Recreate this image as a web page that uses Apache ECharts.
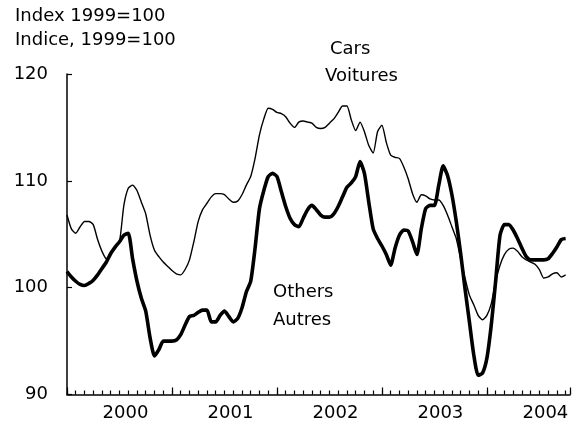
<!DOCTYPE html>
<html>
<head>
<meta charset="utf-8">
<script src="https://cdn.jsdelivr.net/npm/echarts@6/dist/echarts.min.js"></script>
<style>
  html, body { margin: 0; padding: 0; background: #fff; }
  #chart { width: 573px; height: 425px; }
</style>
</head>
<body>
<div id="chart"></div>
<script>
// Year labels along the time axis
const years = ['2000', '2001', '2002', '2003', '2004'];

// Semi-monthly index values (1999 = 100), starting January 2000
const cars = [
  106.8, 105.5, 105.1, 105.7, 106.2, 106.2, 105.9, 104.5, 103.4, 102.7,
  103.2, 103.8, 104.3, 107.7, 109.3, 109.6, 109.1, 108.0, 106.9, 104.9,
  103.5, 102.9, 102.4, 102.0, 101.6, 101.3, 101.2, 101.7, 102.6, 104.3,
  106.2, 107.3, 107.9, 108.5, 108.8, 108.8, 108.7, 108.3, 108.0, 108.1,
  108.7, 109.6, 110.4, 112.1, 114.3, 115.8, 116.8, 116.7, 116.4, 116.3,
  116.0, 115.4, 115.0, 115.5, 115.6, 115.5, 115.4, 115.0, 114.9, 115.0,
  115.4, 115.8, 116.4, 117.0, 117.0, 115.7, 114.7, 115.5, 114.6, 113.3,
  112.6, 114.6, 115.2, 113.6, 112.4, 112.2, 112.1, 111.3, 110.2, 108.8,
  108.0, 108.7, 108.6, 108.3, 108.2, 108.2, 107.7, 106.8, 105.7, 104.6,
  102.7, 100.9, 99.3, 98.4, 97.4, 97.0, 97.4, 98.5, 100.6, 102.1,
  103.1, 103.6, 103.7, 103.4, 102.9, 102.6, 102.4, 102.2, 101.7, 100.9,
  101.0, 101.3, 101.4, 101.0, 101.2
];

const others = [
  101.5, 101.0, 100.6, 100.3, 100.2, 100.4, 100.7, 101.2, 101.8, 102.4,
  103.2, 103.8, 104.3, 104.9, 105.1, 102.7, 100.6, 99.0, 97.8, 95.3,
  93.6, 94.2, 95.0, 95.0, 95.0, 95.1, 95.6, 96.5, 97.3, 97.4,
  97.7, 97.9, 97.9, 96.8, 96.8, 97.4, 97.8, 97.3, 96.8, 97.1,
  98.1, 99.6, 100.6, 103.7, 107.4, 109.1, 110.4, 110.7, 110.4, 109.0,
  107.6, 106.5, 105.9, 105.7, 106.5, 107.3, 107.7, 107.3, 106.8, 106.6,
  106.6, 106.9, 107.6, 108.5, 109.4, 109.8, 110.4, 111.8, 110.7, 108.0,
  105.5, 104.6, 103.9, 103.1, 102.1, 103.7, 104.9, 105.4, 105.3, 104.3,
  103.1, 105.5, 107.4, 107.7, 107.7, 109.6, 111.4, 110.5, 108.7, 106.2,
  103.2, 99.9, 96.8, 93.7, 91.8, 92.0, 93.4, 96.5, 100.6, 104.9,
  105.9, 105.9, 105.4, 104.6, 103.7, 102.9, 102.6, 102.6, 102.6, 102.6,
  102.7, 103.2, 103.8, 104.5, 104.6
];

const FONT = 'DejaVu Sans';
const INK = '#000';

// Two observations per month: x is measured in months since January 2000
const toPoints = arr => arr.map((v, i) => [i / 2, v]);

const chart = echarts.init(document.getElementById('chart'), null, { renderer: 'canvas' });

const labelStyle = { color: INK, fontFamily: FONT, fontSize: 18 };
const textFont = '18px "DejaVu Sans"';

chart.setOption({
  animation: false,
  backgroundColor: '#fff',
  grid: { left: 67, right: -2, top: 74, bottom: 30.5 },
  xAxis: [
    {
      // monthly ticks, year names centred on each year
      type: 'value', position: 'bottom', min: 0, max: 57.5, interval: 1,
      axisLine: { show: true, onZero: false, lineStyle: { color: INK, width: 1.5 } },
      axisTick: { show: true, inside: true, length: 4, lineStyle: { color: INK, width: 1.2 } },
      splitLine: { show: false },
      axisLabel: Object.assign({}, labelStyle, {
        margin: 10,
        padding: [0, 0, 0, 12],
        formatter: v => (v % 12 === 6 ? years[(v - 6) / 12] : '')
      })
    },
    {
      // longer ticks at year boundaries
      type: 'value', position: 'bottom', min: 0, max: 57.5, interval: 12,
      axisLine: { show: false, onZero: false },
      axisTick: { show: true, inside: true, length: 7, lineStyle: { color: INK, width: 1.2 } },
      splitLine: { show: false },
      axisLabel: { show: false }
    }
  ],
  yAxis: {
    type: 'value', min: 90, max: 120, interval: 10,
    axisLine: { show: true, lineStyle: { color: INK, width: 1.5 } },
    axisTick: { show: true, inside: true, length: 5, lineStyle: { color: INK, width: 1.2 } },
    splitLine: { show: false },
    axisLabel: Object.assign({}, labelStyle, { margin: 19 })
  },
  graphic: [
    { type: 'text', left: 15, top: 7, style: { text: 'Index 1999=100', font: textFont, fill: INK } },
    { type: 'text', left: 15, top: 31, style: { text: 'Indice, 1999=100', font: textFont, fill: INK } },
    { type: 'text', left: 330, top: 40, style: { text: 'Cars', font: textFont, fill: INK } },
    { type: 'text', left: 325, top: 67, style: { text: 'Voitures', font: textFont, fill: INK } },
    { type: 'text', left: 273, top: 283, style: { text: 'Others', font: textFont, fill: INK } },
    { type: 'text', left: 273, top: 311, style: { text: 'Autres', font: textFont, fill: INK } }
  ],
  series: [
    {
      name: 'Cars', type: 'line', xAxisIndex: 0, data: toPoints(cars),
      showSymbol: false, smooth: 0.2,
      lineStyle: { color: INK, width: 1.4 }
    },
    {
      name: 'Others', type: 'line', xAxisIndex: 0, data: toPoints(others),
      showSymbol: false, smooth: 0.2,
      lineStyle: { color: INK, width: 3.6 }
    }
  ]
});
</script>
</body>
</html>
